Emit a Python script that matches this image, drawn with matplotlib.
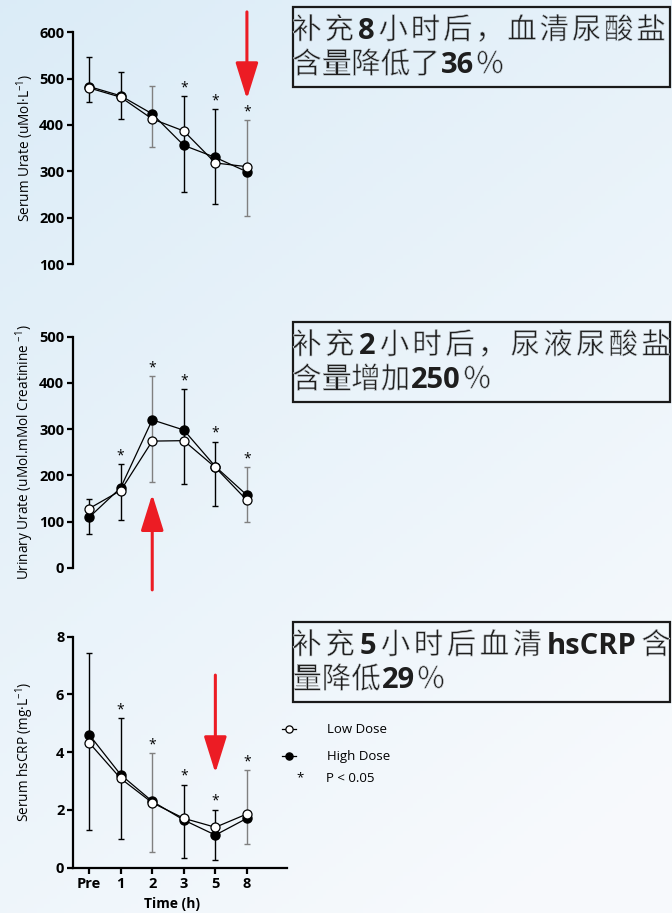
import numpy as np
import matplotlib
matplotlib.use("Agg")
import matplotlib.pyplot as plt
import matplotlib.patheffects as pe
from matplotlib.patches import Rectangle
from matplotlib.lines import Line2D

plt.rcParams['font.family'] = ['Open Sans', 'DejaVu Sans']
plt.rcParams['mathtext.fontset'] = 'custom'
plt.rcParams['mathtext.rm'] = 'Open Sans'
plt.rcParams['mathtext.it'] = 'Open Sans:italic'
plt.rcParams['mathtext.bf'] = 'Open Sans:bold'

# ---- datos ----
tiempos = ['Pre', '1', '2', '3', '5', '8']

urato_bajo = [480, 460, 413, 387, 318, 310]
urato_alto = [483, 463, 424, 356, 330, 299]
urato_err_lo = [449, 412, 353, 256, 230, 203]
urato_err_hi = [546, 514, 485, 463, 434, 410]
urato_err_col = ['k', 'k', 'grey', 'k', 'k', 'grey']
urato_sig = [3, 4, 5]

orina_bajo = [128, 167, 274, 275, 217, 146]
orina_alto = [109, 173, 320, 298, 219, 157]
orina_err_lo = [73, 103, 186, 181, 133, 98]
orina_err_hi = [148, 225, 414, 386, 273, 217]
orina_err_col = ['k', 'k', 'grey', 'k', 'k', 'grey']
orina_sig = [1, 2, 3, 4, 5]

crp_bajo = [4.33, 3.09, 2.25, 1.71, 1.40, 1.86]
crp_alto = [4.61, 3.22, 2.30, 1.65, 1.13, 1.71]
crp_err_lo = [1.30, 0.99, 0.54, 0.32, 0.27, 0.81]
crp_err_hi = [7.42, 5.17, 3.96, 2.88, 2.01, 3.39]
crp_err_col = ['k', 'k', 'grey', 'k', 'k', 'grey']
crp_sig = [1, 2, 3, 4, 5]

W, H = 672, 913
fig = plt.figure(figsize=(W / 100, H / 100), dpi=100)

# fondo degradado azul claro
c0 = np.array([0.86, 0.925, 0.97])
c1 = np.array([0.97, 0.98, 0.99])


def color_fondo(xf, yf):
    t = np.clip(0.7 * yf + 0.4 * xf, 0, 1)
    return c0 * (1 - t) + c1 * t


bg = fig.add_axes([0, 0, 1, 1], zorder=-10)
yy, xx = np.mgrid[0:1:200j, 0:1:200j]
bg.imshow(color_fondo(xx[..., None], yy[..., None]), aspect='auto', extent=[0, 1, 0, 1])
bg.axis('off')


def px_axes(x0, y0_top, x1, y1_bot):
    return fig.add_axes([x0 / W, 1 - y1_bot / H, (x1 - x0) / W, (y1_bot - y0_top) / H])


def panel(ax, bajo, alto, lo, hi, cols, sig, ylim, yticks, ylabel, eje_x=False):
    x = np.arange(len(tiempos))
    ax.set_facecolor('none')
    for i in range(len(x)):
        mid = (lo[i] + hi[i]) / 2
        ax.errorbar(x[i], mid, yerr=[[mid - lo[i]], [hi[i] - mid]], fmt='none',
                    ecolor=cols[i], elinewidth=1.0, capsize=2.2, capthick=1.0, zorder=2)
    ax.plot(x, alto, '-o', color='k', lw=0.9, ms=6.5, mfc='k', mec='k', zorder=3)
    ax.plot(x, bajo, '-o', color='k', lw=0.9, ms=6.5, mfc='white', mec='k', mew=0.9, zorder=4)
    for i in sig:
        ax.annotate('*', xy=(x[i], hi[i]), xytext=(0, 0.5), textcoords='offset points',
                    ha='center', va='bottom', fontsize=10)
    ax.set_xlim(-0.52, 6.27)
    ax.set_ylim(*ylim)
    ax.set_yticks(yticks)
    ax.spines['top'].set_visible(False)
    ax.spines['right'].set_visible(False)
    ax.spines['left'].set_linewidth(1.6)
    ax.spines['left'].set_bounds(ylim[0], ylim[1])
    ax.tick_params(axis='y', direction='out', length=4.5, width=1.6, labelsize=10.5, pad=1.5)
    for lb in ax.get_yticklabels():
        lb.set_fontweight('bold')
    ax.set_ylabel(ylabel, fontsize=9.8, fontweight='medium')
    ax.yaxis.set_label_coords(-0.172, 0.5)
    if eje_x:
        ax.spines['bottom'].set_linewidth(1.6)
        ax.set_xticks(x)
        ax.set_xticklabels(tiempos, fontweight='bold', fontsize=10.5)
        ax.tick_params(axis='x', direction='out', length=4.5, width=1.6, pad=2)
        ax.set_xlabel('Time (h)', fontsize=10, fontweight='bold')
        ax.xaxis.set_label_coords(0.463, -0.125)
    else:
        ax.spines['bottom'].set_visible(False)
        ax.set_xticks([])


ax1 = px_axes(72.7, 32.3, 287, 264)
ax2 = px_axes(72.7, 336.7, 287, 567.7)
ax3 = px_axes(72.7, 636.7, 287, 867.7)

panel(ax1, urato_bajo, urato_alto, urato_err_lo, urato_err_hi, urato_err_col, urato_sig,
      (100, 600), [100, 200, 300, 400, 500, 600], 'Serum Urate (uMol·L$^{-1}$)')
panel(ax2, orina_bajo, orina_alto, orina_err_lo, orina_err_hi, orina_err_col, orina_sig,
      (0, 500), [0, 100, 200, 300, 400, 500], 'Urinary Urate (uMol.mMol Creatinine $^{-1}$)')
panel(ax3, crp_bajo, crp_alto, crp_err_lo, crp_err_hi, crp_err_col, crp_sig,
      (0, 8), [0, 2, 4, 6, 8], 'Serum hsCRP (mg·L$^{-1}$)', eje_x=True)

# flechas rojas
rojo = '#ec1c24'
flecha = dict(arrowstyle='-|>,head_length=1.6,head_width=0.5', color=rojo, lw=2.2,
              mutation_scale=14, shrinkA=0, shrinkB=0)
ax1.annotate('', xy=(5, 456), xytext=(5, 644), arrowprops=flecha, annotation_clip=False)
ax2.annotate('', xy=(2, 159), xytext=(2, -48), arrowprops=flecha, annotation_clip=False)
ax3.annotate('', xy=(4, 3.28), xytext=(4, 6.67), arrowprops=flecha, annotation_clip=False)

# cuadros de texto: cada carácter chino ocupa una celda fija, la primera línea va justificada
cuadros = [
    ((293, 7, 670, 87), 663, [[('补充', 'c'), ('8', 'n'), ('小时后，血清尿酸盐', 'c')],
                              [('含量降低了', 'c'), ('36', 'n'), ('％', 'c')]]),
    ((293, 322, 670, 402), 668, [[('补充', 'c'), ('2', 'n'), ('小时后，尿液尿酸盐', 'c')],
                                 [('含量增加', 'c'), ('250', 'n'), ('％', 'c')]]),
    ((293, 622, 670, 702), 668, [[('补充', 'c'), ('5', 'n'), ('小时后血清', 'c'), ('hsCRP', 'n'), ('含', 'c')],
                                 [('量降低', 'c'), ('29', 'n'), ('％', 'c')]]),
]
paso = 29.5      # ancho de celda en px
lado = 2.8       # margen lateral de la tinta dentro de la celda
hueco = 1.2
renderer = fig.canvas.get_renderer()


def ancho(txt, props):
    t = fig.text(0, 0, txt, **props)
    w = t.get_window_extent(renderer).width
    t.remove()
    return w


for (x0, y0, x1, y1), fin, lineas in cuadros:
    fondo = color_fondo((x0 + x1) / 2 / W, (y0 + y1) / 2 / H)
    cjk = dict(family=['Noto Sans CJK SC'], size=21.2, color='#1e1e1e',
               path_effects=[pe.Normal(), pe.Stroke(linewidth=0.45, foreground=fondo)])
    num = dict(family=['Open Sans'], weight='bold', size=21, color='#1e1e1e')
    fig.add_artist(Rectangle((x0 / W, 1 - y1 / H), (x1 - x0) / W, (y1 - y0) / H,
                             transform=fig.transFigure, fill=False, lw=1.6, ec='#1a1a1a'))
    for j, ln in enumerate(lineas):
        piezas = []
        for s, k in ln:
            if k == 'c':
                piezas += [(ch, cjk, paso) for ch in s]
            else:
                piezas.append((s, num, ancho(s, num) + 2 * hueco))
        natural = sum(p[2] for p in piezas)
        inicio = 295 - lado
        extra = 0.0
        if j == 0:
            extra = (fin + lado - inicio - natural) / (len(piezas) - 1)
        base = y0 + (31.8 if j == 0 else 66.2)
        cur = inicio
        for s, props, w in piezas:
            fig.text((cur + w / 2) / W, 1 - base / H, s, ha='center', va='baseline', **props)
            cur += w + extra

# leyenda
for yy_px, relleno, txt in [(729, 'white', 'Low Dose'), (756, 'k', 'High Dose')]:
    fig.add_artist(Line2D([282 / W, 296 / W], [1 - yy_px / H] * 2, transform=fig.transFigure,
                          color='k', lw=0.9))
    fig.add_artist(Line2D([289 / W], [1 - yy_px / H], transform=fig.transFigure, marker='o',
                          ms=5.2, mfc=relleno, mec='k', mew=0.9))
    fig.text(327 / W, 1 - yy_px / H, txt, fontsize=9.5, va='center', ha='left')
fig.text(300 / W, 1 - 778 / H, '*', fontsize=9.5, va='center', ha='center')
fig.text(326 / W, 1 - 778 / H, 'P < 0.05', fontsize=9.5, va='center', ha='left')

fig.savefig('out.png', dpi=100)
